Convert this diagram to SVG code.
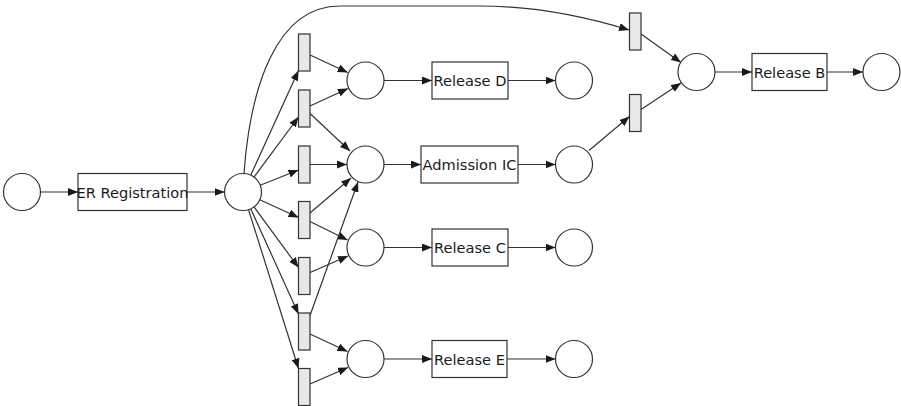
<svg xmlns="http://www.w3.org/2000/svg" width="901" height="406" viewBox="0 0 901 406">
<defs>
<marker id="ah" viewBox="0 0 10 8" refX="10" refY="4" markerWidth="10" markerHeight="8" markerUnits="userSpaceOnUse" orient="auto">
<path d="M0,0 L10,4 L0,8 Z" fill="#1a1a1a"/>
</marker>
</defs>
<style>
.p{fill:#fff;stroke:#333;stroke-width:1.2}
.t{fill:#e8e8e8;stroke:#333;stroke-width:1.2}
.a{fill:#fff;stroke:#333;stroke-width:1.2}
.l{font-family:"DejaVu Sans",sans-serif;font-size:14.6px;fill:#1a1a1a;text-anchor:middle;dominant-baseline:central}
.e{fill:none;stroke:#333;stroke-width:1.2;marker-end:url(#ah)}
</style>
<rect width="901" height="406" fill="#fff"/>
<g id="edges">
<line class="e" x1="40.5" y1="192" x2="78" y2="192"/>
<line class="e" x1="187" y1="192" x2="224.5" y2="192"/>
<line class="e" x1="250.7" y1="175.2" x2="298.5" y2="70.5"/>
<line class="e" x1="254" y1="177.1" x2="298.5" y2="117"/>
<line class="e" x1="260.2" y1="185.2" x2="298.5" y2="170"/>
<line class="e" x1="259.8" y1="199.7" x2="298.5" y2="217.5"/>
<line class="e" x1="254" y1="206.9" x2="298.5" y2="267.5"/>
<line class="e" x1="250.7" y1="208.8" x2="298.5" y2="314"/>
<line class="e" x1="248.5" y1="209.6" x2="298.5" y2="368.5"/>
<path class="e" d="M244,173.5 C250,90 275,6 340,6 L480,6 C540,6 590,18 629,30"/>
<line class="e" x1="310" y1="55" x2="347.7" y2="72.5"/>
<line class="e" x1="310" y1="106" x2="348" y2="88.5"/>
<line class="e" x1="309.5" y1="113" x2="350" y2="151"/>
<line class="e" x1="310" y1="164.5" x2="347" y2="164.5"/>
<line class="e" x1="310" y1="213" x2="351" y2="178"/>
<line class="e" x1="310" y1="221.5" x2="347.5" y2="240"/>
<line class="e" x1="310" y1="272.5" x2="348" y2="256"/>
<line class="e" x1="310" y1="315.5" x2="358" y2="182"/>
<line class="e" x1="310" y1="334" x2="347.5" y2="351.5"/>
<line class="e" x1="310" y1="384" x2="348" y2="367.5"/>
<line class="e" x1="384" y1="80.5" x2="432" y2="80.5"/>
<line class="e" x1="508" y1="80.5" x2="555.5" y2="80.5"/>
<line class="e" x1="384" y1="164.5" x2="421" y2="164.5"/>
<line class="e" x1="518" y1="164.5" x2="555.5" y2="164.5"/>
<line class="e" x1="384" y1="247.5" x2="432" y2="247.5"/>
<line class="e" x1="508" y1="247.5" x2="555.5" y2="247.5"/>
<line class="e" x1="384" y1="359" x2="432" y2="359"/>
<line class="e" x1="507" y1="359" x2="555.5" y2="359"/>
<line class="e" x1="589" y1="150.5" x2="629.5" y2="116.5"/>
<line class="e" x1="641" y1="34" x2="681" y2="62.5"/>
<line class="e" x1="641" y1="109.5" x2="681" y2="83"/>
<line class="e" x1="715" y1="72" x2="752" y2="72"/>
<line class="e" x1="827" y1="72" x2="863" y2="72"/>
</g>
<g id="start"><circle class="p" cx="22" cy="192" r="18.5"/></g>
<g id="er_registration"><rect class="a" x="78" y="173.5" width="109" height="37"/><text class="l" x="132.5" y="192">ER Registration</text></g>
<g id="p_reg"><circle class="p" cx="243" cy="192" r="18.5"/></g>
<g id="t1"><rect class="t" x="298.5" y="34" width="11.5" height="37"/></g>
<g id="t2"><rect class="t" x="298.5" y="90" width="11.5" height="37"/></g>
<g id="t3"><rect class="t" x="298.5" y="146" width="11.5" height="37"/></g>
<g id="t4"><rect class="t" x="298.5" y="201.5" width="11.5" height="37"/></g>
<g id="t5"><rect class="t" x="298.5" y="257.5" width="11.5" height="37"/></g>
<g id="t6"><rect class="t" x="298.5" y="313" width="11.5" height="37"/></g>
<g id="t7"><rect class="t" x="298.5" y="368.5" width="11.5" height="37"/></g>
<g id="p_d"><circle class="p" cx="365.5" cy="80.5" r="18.5"/></g>
<g id="p_ic"><circle class="p" cx="365.5" cy="164.5" r="18.5"/></g>
<g id="p_c"><circle class="p" cx="365.5" cy="247.5" r="18.5"/></g>
<g id="p_e"><circle class="p" cx="365.5" cy="359" r="18.5"/></g>
<g id="release_d"><rect class="a" x="432" y="62" width="76" height="37"/><text class="l" x="470" y="80.5">Release D</text></g>
<g id="admission_ic"><rect class="a" x="421" y="146" width="97" height="37"/><text class="l" x="469.5" y="164.5">Admission IC</text></g>
<g id="release_c"><rect class="a" x="432" y="229" width="76" height="37"/><text class="l" x="470" y="247.5">Release C</text></g>
<g id="release_e"><rect class="a" x="432" y="340.5" width="75" height="37"/><text class="l" x="469.5" y="359">Release E</text></g>
<g id="p_d_end"><circle class="p" cx="574" cy="80.5" r="18.5"/></g>
<g id="p_ic_out"><circle class="p" cx="574" cy="164.5" r="18.5"/></g>
<g id="p_c_end"><circle class="p" cx="574" cy="247.5" r="18.5"/></g>
<g id="p_e_end"><circle class="p" cx="574" cy="359" r="18.5"/></g>
<g id="t8"><rect class="t" x="629.5" y="13" width="11.5" height="37"/></g>
<g id="t9"><rect class="t" x="629.5" y="94.5" width="11.5" height="37"/></g>
<g id="p_b"><circle class="p" cx="696.5" cy="72" r="18.5"/></g>
<g id="release_b"><rect class="a" x="752" y="53.5" width="75" height="37"/><text class="l" x="789.5" y="72">Release B</text></g>
<g id="p_b_end"><circle class="p" cx="881.5" cy="72" r="18.5"/></g>
</svg>
